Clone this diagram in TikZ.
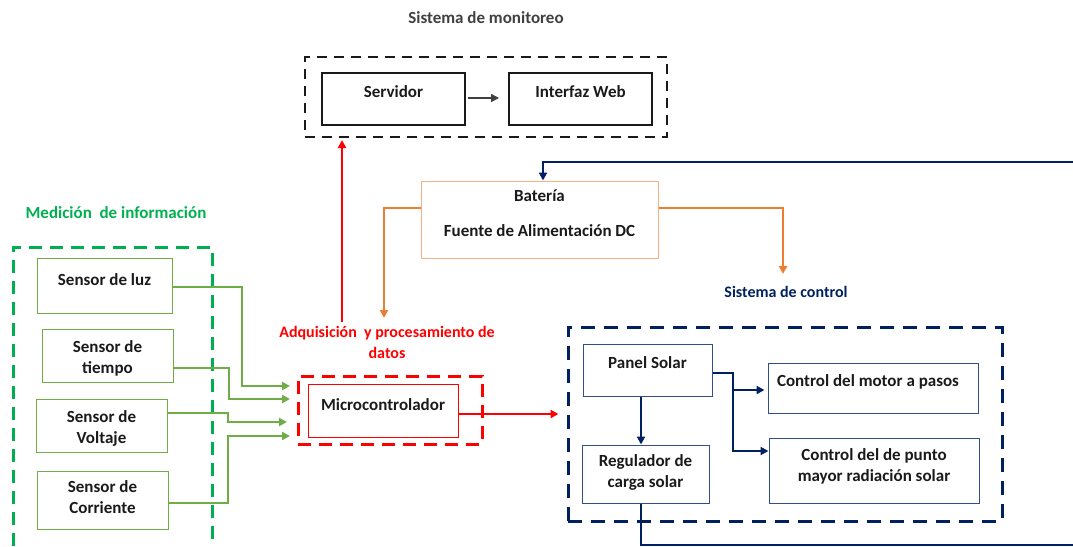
\documentclass[tikz,border=0pt]{standalone}
\usepackage{fontspec}
\setmainfont{Carlito}
\usetikzlibrary{arrows.meta,positioning}
\definecolor{verde}{HTML}{00B050}
\definecolor{verdeclaro}{HTML}{70AD47}
\definecolor{naranja}{HTML}{ED7D31}
\definecolor{naranjaclaro}{HTML}{F4B183}
\definecolor{marino}{HTML}{002060}
\definecolor{azulcaja}{HTML}{2F4F8F}
\definecolor{gris}{HTML}{404040}
\definecolor{tinta}{HTML}{1A1A1A}

\begin{document}
\begin{tikzpicture}[x=1pt,y=-1pt,
    every node/.style={font=\bfseries\fontsize{17}{21}\selectfont,text=tinta},
    caja/.style={draw,line width=1pt,inner sep=0pt},
    marco/.style={draw,line width=3pt,dash pattern=on 13pt off 8pt,inner sep=0pt},
    txt/.style={align=center},
    flecha/.style={-{Triangle[length=8pt,width=8pt]}},
    >=Triangle]
    \useasboundingbox (0,0) rectangle (1073,546);

    % sistema de monitoreo
    \node[text=gris] (tmon) at (486,18) {Sistema de monitoreo};
    \node[marco,draw=tinta,line width=2pt,dash pattern=on 10pt off 7pt,minimum width=362pt,minimum height=80pt] (monitoreo) at (486,97) {};
    \node[caja,draw=tinta,line width=2pt,minimum width=143pt,minimum height=52pt,label={[yshift=7pt]center:Servidor}] (srv) at (393.5,99) {};
    \node[caja,draw=tinta,line width=2pt,minimum width=143pt,minimum height=52pt,label={[yshift=7pt]center:Interfaz Web}] (web) at (580.5,99) {};
    \draw[gris,line width=1.5pt,flecha,shorten <=2pt,shorten >=9pt] ([yshift=1pt]srv.east) -- ([yshift=1pt]web.west);

    % bateria
    \node[caja,draw=naranjaclaro,minimum width=237pt,minimum height=77pt,
      label={[yshift=23.5pt]center:Batería},
      label={[yshift=-11.5pt]center:Fuente de Alimentación DC}] (bat) at (539.5,219.5) {};

    % adquisicion
    \node[txt,text=red,font=\bfseries\fontsize{16}{21}\selectfont] (tadq) at (387,342.5) {Adquisición~~y procesamiento de\\datos};
    \node[marco,draw=red,minimum width=184pt,minimum height=68pt] (adq) at (390,410) {};
    \node[caja,draw=red,minimum width=150pt,minimum height=53pt,label={[yshift=5.5pt]center:Microcontrolador}] (micro) at (383,410.5) {};
    \coordinate (r0) at (342,322);
    \draw[red,line width=2pt,flecha,shorten >=2pt] (r0) -- (r0 |- monitoreo.south);

    \coordinate (o1) at (384,318);
    \coordinate (o2) at (783,274);
    \draw[naranja,line width=2pt,flecha] ([yshift=11.5pt]bat.west) -| (o1);
    \draw[naranja,line width=2pt,flecha] ([yshift=11.5pt]bat.east) -| (o2);

    % medicion de informacion
    \node[text=verde] (tmed) at (116,213) {Medición~~de información};
    \draw[verde,line width=3pt,dash pattern=on 13pt off 8pt] (13,546) -- (13,247) -- (212,247) -- (212,546);
    \node[caja,draw=verdeclaro,minimum width=135pt,minimum height=55pt,label={[yshift=5.5pt]center:Sensor de luz}] (luz) at (104.5,285.5) {};
    \node[caja,draw=verdeclaro,minimum width=131pt,minimum height=53pt,label={[txt,yshift=-2.5pt]center:Sensor de\\tiempo}] (tiempo) at (107.5,355.5) {};
    \node[caja,draw=verdeclaro,minimum width=131pt,minimum height=53pt,label={[txt,yshift=-2.5pt]center:Sensor de\\Voltaje}] (volt) at (101.5,425.5) {};
    \node[caja,draw=verdeclaro,minimum width=131pt,minimum height=58pt,label={[txt,yshift=2.5pt]center:Sensor de\\Corriente}] (corr) at (102.5,500) {};

    \coordinate (e1) at (290,386);
    \coordinate (e2) at (290,399);
    \coordinate (e3) at (287,422);
    \coordinate (e4) at (290,436);
    \draw[verdeclaro,line width=2pt,flecha] ([yshift=-1.5pt]luz.east) -| ([xshift=-48pt]e1) -- (e1);
    \draw[verdeclaro,line width=2pt,flecha] ([yshift=-12.5pt]tiempo.east) -| ([xshift=-61pt]e2) -- (e2);
    \draw[verdeclaro,line width=2pt,flecha] ([yshift=12.5pt]volt.east) -| ([xshift=-59pt]e3) -- (e3);
    \draw[verdeclaro,line width=2pt,flecha] ([yshift=-3pt]corr.east) -| ([xshift=-62pt]e4) -- (e4);

    % sistema de control
    \node[text=marino,font=\bfseries\fontsize{16}{21}\selectfont] (tctrl) at (786,292) {Sistema de control};
    \node[marco,draw=marino,dash pattern=on 14pt off 9pt,minimum width=434pt,minimum height=194pt] (ctrl) at (785,424) {};
    \node[caja,draw=azulcaja,minimum width=129pt,minimum height=52pt,label={[yshift=7pt]center:Panel Solar}] (panel) at (647.5,370) {};
    \node[caja,draw=azulcaja,minimum width=127pt,minimum height=58pt,label={[txt,yshift=1.5pt]center:Regulador de\\carga solar}] (reg) at (645.5,474) {};
    \node[caja,draw=azulcaja,minimum width=210pt,minimum height=50pt,label={[xshift=-5pt,yshift=6pt]center:Control del motor a pasos}] (motor) at (873,388) {};
    \node[caja,draw=azulcaja,minimum width=210pt,minimum height=65pt,label={[txt,yshift=4.5pt]center:Control del de punto\\mayor radiación solar}] (punto) at (874,470.5) {};

    \draw[red,line width=2pt,flecha,shorten >=8pt] ([yshift=-3.5pt]micro.east) -- ([yshift=-3.5pt]micro.east -| ctrl.west);

    \coordinate (p1) at (641,0);
    \coordinate (b1) at (733,390);
    \draw[marino,line width=2pt,flecha] (panel.south -| p1) -- (reg.north -| p1);
    \draw[marino,line width=2pt] ([yshift=-3pt]panel.east) -| (b1);
    \draw[marino,line width=2pt,flecha,shorten >=3pt] (b1) -- (b1 -| motor.west);
    \draw[marino,line width=2pt,flecha] (b1) |- ([yshift=19.5pt]punto.west);

    % retorno a la bateria
    \coordinate (fin1) at (1073,545);
    \coordinate (fin2) at (1073,162);
    \draw[marino,line width=2pt] (reg.south -| p1) |- (fin1);
    \draw[marino,line width=2pt,flecha] (fin2) -| ([xshift=3.5pt]bat.north);
\end{tikzpicture}
\end{document}
